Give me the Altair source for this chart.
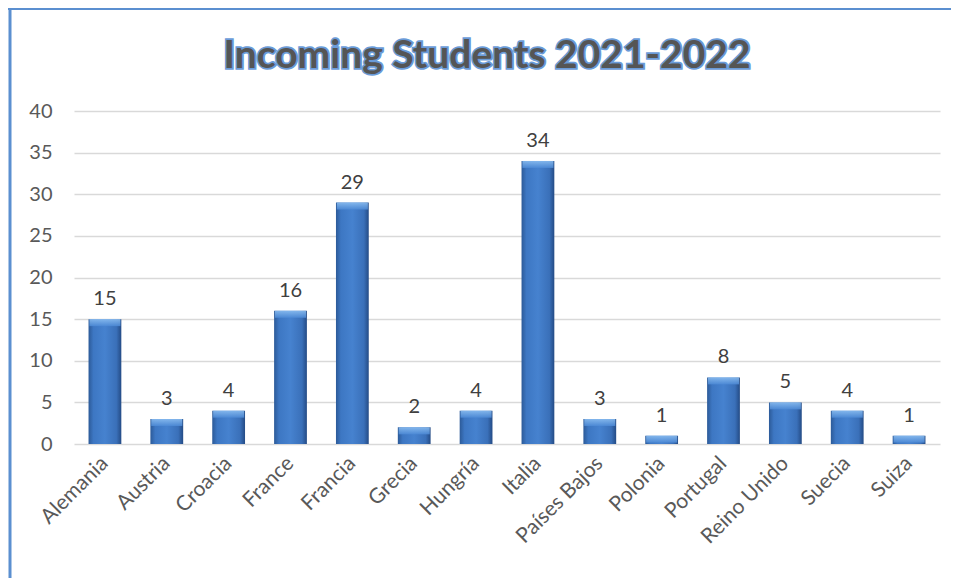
import altair as alt
import pandas as pd

countries = ["Alemania", "Austria", "Croacia", "France", "Francia", "Grecia", "Hungría",
             "Italia", "Países Bajos", "Polonia", "Portugal", "Reino Unido", "Suecia", "Suiza"]
students = [15, 3, 4, 16, 29, 2, 4, 34, 3, 1, 8, 5, 4, 1]
y_ticks = [0, 5, 10, 15, 20, 25, 30, 35, 40]
title_text = "Incoming Students 2021-2022"

df = pd.DataFrame({"country": countries, "students": students})
FONT = "Lato"

xenc = alt.X("country:N", sort=countries, title=None,
             scale=alt.Scale(paddingInner=0.47, paddingOuter=0.235),
             axis=alt.Axis(labelAngle=-45, labelAlign="right", labelBaseline="middle",
                           labelPadding=16, labelFontSize=21, labelColor="#595959",
                           labelFont=FONT, ticks=False, domain=False, grid=False))
yenc = alt.Y("students:Q", title=None,
             scale=alt.Scale(domain=[0, 40], nice=False),
             axis=alt.Axis(values=y_ticks, labelFontSize=20, labelColor="#595959",
                           labelFont=FONT, labelPadding=22, ticks=False, domain=False,
                           grid=True, gridColor="#D9D9D9", gridWidth=1.5))

bar_fill = {"gradient": "linear", "x1": 0, "x2": 1, "y1": 0, "y2": 0,
            "stops": [{"offset": 0, "color": "#2C5A98"},
                      {"offset": 0.15, "color": "#3D77C3"},
                      {"offset": 0.5, "color": "#4682CF"},
                      {"offset": 0.85, "color": "#3A70B9"},
                      {"offset": 1, "color": "#244B85"}]}
bevel_fill = {"gradient": "linear", "x1": 0, "x2": 0, "y1": 0, "y2": 1,
              "stops": [{"offset": 0, "color": "#8EC0F2"},
                        {"offset": 1, "color": "#4D8AD6"}]}

base = alt.Chart(df)
bars = base.mark_bar(color=bar_fill).encode(x=xenc, y=yenc)
bevel = base.mark_tick(color=bevel_fill, size=31, thickness=7, yOffset=3.5, opacity=0.85).encode(
    x=alt.X("country:N", sort=countries), y="students:Q")
labels = base.mark_text(font=FONT, fontSize=20, color="#404040", baseline="alphabetic", dy=-14).encode(
    x=alt.X("country:N", sort=countries), y="students:Q", text="students:Q")

tdf = pd.DataFrame({"t": [title_text]})
title_outline = alt.Chart(tdf).mark_text(font=FONT, fontSize=39, fontWeight="bold",
                                         fill="#5B8FD0", stroke="#6A9BD8", strokeWidth=3.5,
                                         baseline="alphabetic", align="center").encode(
    text="t:N", x=alt.value(413), y=alt.value(-43))
title_fill = alt.Chart(tdf).mark_text(font=FONT, fontSize=39, fontWeight="bold",
                                      fill="#555555", baseline="alphabetic", align="center").encode(
    text="t:N", x=alt.value(413), y=alt.value(-43))

bdf = pd.DataFrame({"k": [0]})
left_border = alt.Chart(bdf).mark_rule(color="#5B8FD0", strokeWidth=3).encode(
    x=alt.value(-64), y=alt.value(-103), y2=alt.value(467))
top_border = alt.Chart(bdf).mark_rule(color="#5B8FD0", strokeWidth=2).encode(
    x=alt.value(-66), x2=alt.value(877), y=alt.value(-102))

chart = alt.layer(bars, bevel, labels, title_outline, title_fill, left_border, top_border).properties(
    width=866, height=333,
    autosize=alt.AutoSizeParams(type="none"),
    padding={"left": 66, "top": 103, "right": 11, "bottom": 134},
    background="white",
).configure_view(stroke=None)

chart.save("out.html", embed_options={"renderer": "svg", "actions": False})
